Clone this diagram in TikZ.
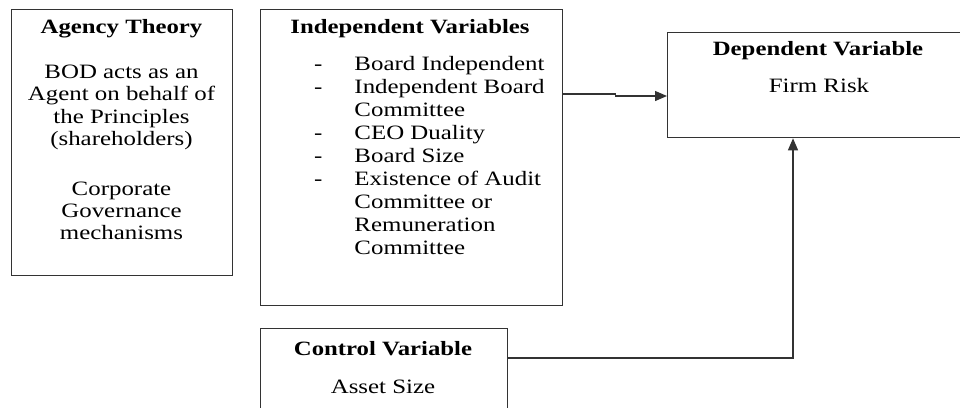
\documentclass[tikz,border=0pt]{standalone}
\usepackage{fontspec}
\setmainfont{Liberation Serif}[FakeStretch=1.22]
\usetikzlibrary{arrows.meta}
\begin{document}
\begin{tikzpicture}[x=1pt,y=-1pt,
  box/.style={draw=black!80, line width=1.3pt, inner sep=0pt, anchor=north west},
  head/.style={font=\fontsize{20.3}{22}\selectfont\bfseries, anchor=base, inner sep=0pt},
  body/.style={font=\fontsize{20.4}{22.4}\selectfont, anchor=base, inner sep=0pt},
  conn/.style={draw=black!80, line width=1.3pt, -{Triangle[length=12pt,width=10pt]}}]
\useasboundingbox (0,0) rectangle (960,407);
\clip (0,0) rectangle (960,407);
% boxes
\node[box, minimum width=221pt, minimum height=266pt] (agency) at (11,9) {};
\node[box, minimum width=302pt, minimum height=296pt] (indep) at (260,9) {};
\node[box, minimum width=302pt, minimum height=105pt] (dep) at (667,32) {};
\node[box, minimum width=247pt, minimum height=100pt] (ctrl) at (260,328) {};
% texts
\node[head] (agencyT) at (121.5,33) {Agency Theory};
\node[body] (agencyB) at (121.5,78.5) {\begin{tabular}[t]{@{}c@{}}BOD acts as an\\Agent on behalf of\\the Principles\\(shareholders)\\[27pt]Corporate\\Governance\\mechanisms\end{tabular}};
\node[head] (indepT) at (410,33) {Independent Variables};
\node[body, anchor=base west, font=\fontsize{20.4}{23}\selectfont] (indepL) at (314,70) {\begin{tabular}[t]{@{}l@{\hspace{32pt}}l@{}}-&Board Independent\\-&Independent Board\\&Committee\\-&CEO Duality\\-&Board Size\\-&Existence of Audit\\&Committee or\\&Remuneration\\&Committee\end{tabular}};
\node[head] (depT) at (818,55) {Dependent Variable};
\node[body] (depB) at (819,92) {Firm Risk};
\node[head] (ctrlT) at (383,355) {Control Variable};
\node[body] (ctrlB) at (383,393) {Asset Size};
% connectors
\draw[conn] ([yshift=-85pt]indep.north east) -- ++(52,0) -- ++(0,2) -- ([yshift=-64pt]dep.north west);
\draw[conn] ([yshift=-30pt]ctrl.north east) -| ([xshift=126pt]dep.south west);
\end{tikzpicture}
\end{document}
